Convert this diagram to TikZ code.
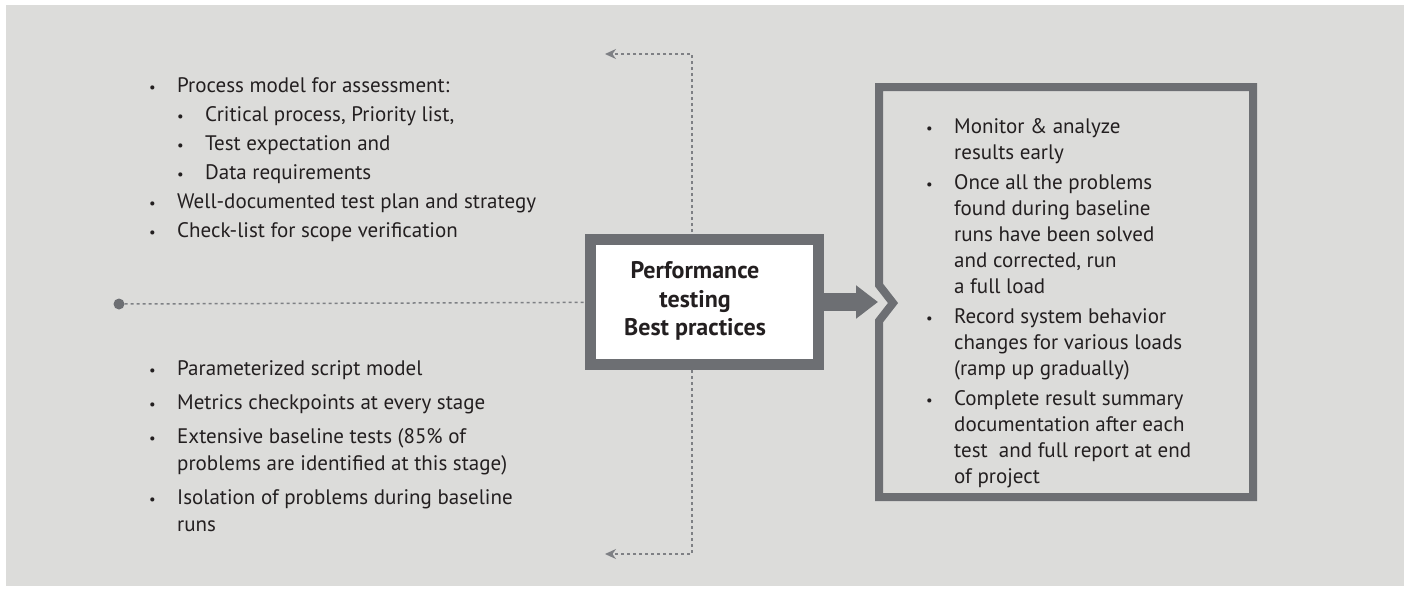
\documentclass[tikz,border=0pt]{standalone}
\usepackage{fontspec}
\setmainfont{PT Sans}
\usetikzlibrary{arrows.meta}
\definecolor{paper}{HTML}{DCDCDA}
\definecolor{frame}{HTML}{6D6F73}
\definecolor{ink}{HTML}{231F20}
\definecolor{dots}{HTML}{7E8084}
\newcommand\bul{\makebox[28pt][l]{\scalebox{0.7}{\textbullet}}}
\newcommand\ind{\makebox[28pt]{}}
\begin{document}
\begin{tikzpicture}[x=1pt,y=-1pt,
  every node/.style={inner sep=0pt, text=ink},
  list/.style={anchor=north west, align=left, font=\fontsize{21}{29}\selectfont},
  dotline/.style={draw=dots, line width=1.5pt, dash pattern=on 3pt off 3pt},
  tip/.style={-{Stealth[length=11pt,width=10pt]}}]

\useasboundingbox[fill=white] (0,0) rectangle (1410,598);
\fill[paper] (6,5) rectangle (1404,586);

% guides behind the core box
\coordinate (hub) at (692,304);
\coordinate (up) at (605,54);
\coordinate (down) at (605,554);
\draw[dotline,tip] (hub) |- (up);
\draw[dotline,tip] (hub) |- (down);

% core box
\node[draw=frame, line width=11pt, fill=white, minimum width=228pt, minimum height=125pt] (core) at (704.5,302) {};
\node[font=\bfseries\fontsize{24}{28.5}\selectfont, align=center] (title) at (695,301) {Performance\\testing\\Best practices};

\node[circle, fill=frame, minimum size=11pt] (start) at (119,304) {};
\draw[dotline] (start) -- (core);

% arrow into the results frame
\coordinate (notch) at (878,302);
\draw[frame, line width=18pt, -{Triangle[length=22pt,width=32pt]}] (core.east) -- (notch);
\draw[frame, line width=8pt] (879,87) -- (1253,87) -- (1253,497) -- (879,497)
  -- (879,321) -- (893,303) -- (879,285) -- cycle;

% lists
\node[list] (plan) at (149,77) {\bul Process model for assessment:\\
  \ind\bul Critical process, Priority list,\\
  \ind\bul Test expectation and\\
  \ind\bul Data requirements\\
  \bul Well-documented test plan and strategy\\
  \bul Check-list for scope verification};

\node[list, font=\fontsize{21}{27}\selectfont] (build) at (149,360) {\bul Parameterized script model\\[7pt]
  \bul Metrics checkpoints at every stage\\[7pt]
  \bul Extensive baseline tests (85\% of\\
  \ind problems are identified at this stage)\\[7pt]
  \bul Isolation of problems during baseline\\
  \ind runs};

\node[list, font=\fontsize{21}{26}\selectfont] (run) at (926,118) {\bul Monitor \& analyze\\
  \ind results early\\[4pt]
  \bul Once all the problems\\
  \ind found during baseline\\
  \ind runs have been solved\\
  \ind and corrected, run\\
  \ind a full load\\[4pt]
  \bul Record system behavior\\
  \ind changes for various loads\\
  \ind (ramp up gradually)\\[4pt]
  \bul Complete result summary\\
  \ind documentation after each\\
  \ind test\ \ and full report at end\\
  \ind of project};
\end{tikzpicture}
\end{document}
